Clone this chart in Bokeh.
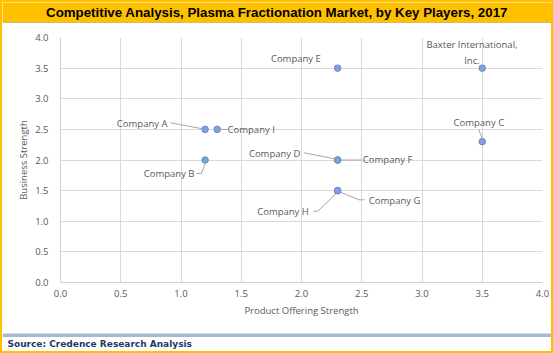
from bokeh.plotting import figure
from bokeh.models import Range1d, FixedTicker, NumeralTickFormatter, ColumnDataSource
from bokeh.layouts import column
from bokeh.core.properties import value
from bokeh.embed import file_html
from bokeh.resources import INLINE

# ---------------- data ----------------
companies = ["Company A", "Company I", "Company B", "Company E",
             "Baxter International,\nInc.", "Company C", "Company D",
             "Company F", "Company G", "Company H"]
product_offering = [1.2, 1.3, 1.2, 2.3, 3.5, 3.5, 2.3, 2.3, 2.3, 2.3]
business_strength = [2.5, 2.5, 2.0, 3.5, 3.5, 2.3, 2.0, 2.0, 1.5, 1.5]
tick_values = [0.0, 0.5, 1.0, 1.5, 2.0, 2.5, 3.0, 3.5, 4.0]
title_text = "Competitive Analysis, Plasma Fractionation Market, by Key Players, 2017"
source_text = "Source: Credence Research Analysis"
x_label = "Product Offering Strength"
y_label = "Business Strength"

# ---------------- label layout (screen px offsets from the point, +y down) ----------------
label_dx = [-37.6, 10.4, -10.6, -41.8, -10.3, -3.4, -37.2, 25.2, 31.2, -28.8]
label_dy = [-6.0, 0.0, 13.5, -9.3, -15.6, -19.4, -6.8, -0.2, 9.6, 20.6]
label_align = ["right", "left", "right", "center", "center", "center",
               "right", "left", "left", "right"]
leader_px = [
    [(-34.6, -6.6), (-2.9, -0.6)],
    [(3.5, 0.0), (10.0, 0.0)],
    [(-8.6, 13.5), (-3.6, 13.5), (0.0, 3.5)],
    [],
    [],
    [(-3.4, -11.8), (-0.1, -3.4)],
    [(-33.8, -7.2), (-3.1, -1.2)],
    [(3.5, 0.0), (24.0, 0.0)],
    [(2.9, 1.6), (21.2, 9.2), (27.0, 9.2)],
    [(-24.4, 20.6), (-19.8, 20.6), (-1.1, 2.6)],
]

TEXT_COLOR = "#595959"
GRID_COLOR = "#D9D9D9"
BLUE_LINE = "#4F73A8"
YELLOW = "#FFC000"

FRAME_W, FRAME_H = 482, 245
X0, X1, Y0, Y1 = 0.0, 4.0, 0.0, 4.0
px_x = FRAME_W / (X1 - X0)
px_y = FRAME_H / (Y1 - Y0)

# ---------------- title band ----------------
tf = figure(width=549, height=21, x_range=Range1d(0, 1), y_range=Range1d(0, 1),
            toolbar_location=None, output_backend="svg",
            x_axis_type=None, y_axis_type=None, frame_align=False,
            min_border_left=0, min_border_right=0, min_border_top=0, min_border_bottom=1)
tf.grid.visible = False
tf.outline_line_color = None
tf.background_fill_color = YELLOW
tf.border_fill_color = BLUE_LINE
tf.text(x=[0.5], y=[0.5], text=[title_text], text_align="center", text_baseline="middle",
        text_font=value("Liberation Sans"), text_font_style="bold",
        text_font_size="13.3px", text_color="#000000")

# ---------------- main chart ----------------
p = figure(width=549, height=310, x_range=Range1d(X0, X1), y_range=Range1d(Y0, Y1),
           toolbar_location=None, output_backend="svg", frame_align=False,
           min_border_left=58, min_border_right=9, min_border_top=14, min_border_bottom=51)
p.outline_line_color = None
p.background_fill_color = "white"
p.border_fill_color = "white"

for ax in (p.xaxis[0], p.yaxis[0]):
    ax.ticker = FixedTicker(ticks=tick_values)
    ax.formatter = NumeralTickFormatter(format="0.0")
    ax.major_tick_out = 0
    ax.major_tick_in = 0
    ax.minor_tick_out = 0
    ax.minor_tick_in = 0
    ax.axis_line_color = "#CFCFCF"
    ax.major_label_text_color = TEXT_COLOR
    ax.major_label_text_font = "Open Sans"
    ax.major_label_text_font_size = "9.5px"
    ax.axis_label_text_color = TEXT_COLOR
    ax.axis_label_text_font = "Open Sans"
    ax.axis_label_text_font_size = "9.5px"
    ax.axis_label_text_font_style = "normal"

p.xaxis.axis_label = x_label
p.yaxis.axis_label = y_label
p.xaxis.major_label_standoff = 7
p.xaxis.axis_label_standoff = 4
p.yaxis.major_label_standoff = 12
p.yaxis.axis_label_standoff = 2

for g in (p.xgrid[0], p.ygrid[0]):
    g.ticker = FixedTicker(ticks=tick_values)
    g.grid_line_color = GRID_COLOR
    g.grid_line_width = 1

# leader lines
lx, ly = [], []
for xv, yv, pts in zip(product_offering, business_strength, leader_px):
    if not pts:
        continue
    lx.append([xv + dx / px_x for dx, dy in pts])
    ly.append([yv - dy / px_y for dx, dy in pts])
p.multi_line(xs=lx, ys=ly, line_color="#A6A6A6", line_width=1)

# points
src = ColumnDataSource(dict(x=product_offering, y=business_strength, name=companies))
p.scatter("x", "y", source=src, size=6.5, fill_color="#7FA2D8", line_color="#6389C6", line_width=1)

# labels
tx = [xv + dx / px_x for xv, dx in zip(product_offering, label_dx)]
ty = [yv - dy / px_y for yv, dy in zip(business_strength, label_dy)]
lab = ColumnDataSource(dict(x=tx, y=ty, text=companies, align=label_align))
p.text("x", "y", text="text", source=lab, text_align="align", text_baseline="middle",
       text_font=value("Open Sans"), text_font_size="9.5px", text_color=TEXT_COLOR,
       text_line_height=1.25)

# ---------------- source band ----------------
sf = figure(width=549, height=18, x_range=Range1d(0, 549), y_range=Range1d(0, 18),
            toolbar_location=None, output_backend="svg", frame_align=False,
            x_axis_type=None, y_axis_type=None,
            min_border_left=0, min_border_right=0, min_border_top=0, min_border_bottom=0)
sf.grid.visible = False
sf.outline_line_color = None
sf.background_fill_color = "white"
sf.border_fill_color = "white"
sf.quad(left=[0, 0], right=[549, 549], bottom=[17, 15], top=[18, 16],
        fill_color=BLUE_LINE, line_color=None)
sf.text(x=[5], y=[7.5], text=[source_text], text_align="left", text_baseline="middle",
        text_font=value("DejaVu Sans"), text_font_style="bold", text_font_size="9px",
        text_color="#1F3864")

layout = column(tf, p, sf, spacing=0,
                styles={"border": "2px solid " + YELLOW})

open("out.html", "w").write(file_html(layout, INLINE))
